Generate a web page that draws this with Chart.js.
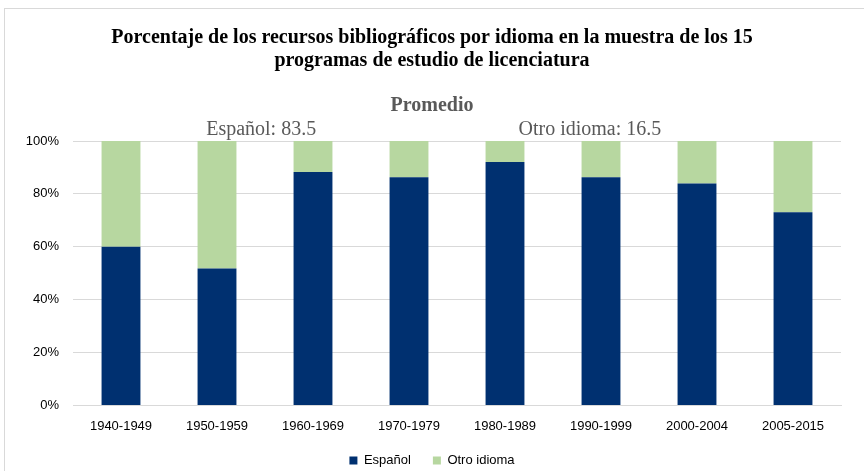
<!DOCTYPE html>
<html>
<head>
<meta charset="utf-8">
<script src="https://cdn.jsdelivr.net/npm/chart.js@4/dist/chart.umd.min.js"></script>
<style>
html,body{margin:0;padding:0;background:#fff;}
#wrap{position:relative;width:864px;height:471px;}
</style>
</head>
<body>
<div id="wrap"><canvas id="c" width="864" height="471"></canvas></div>
<script>
const categories = ['1940-1949','1950-1959','1960-1969','1970-1979','1980-1989','1990-1999','2000-2004','2005-2015'];
const espanol = [60.0, 51.8, 88.3, 86.3, 92.1, 86.3, 83.9, 73.1];
const otroIdioma = [40.0, 48.2, 11.7, 13.7, 7.9, 13.7, 16.1, 26.9];
const yTicks = [0, 20, 40, 60, 80, 100];
const titleLines = ['Porcentaje de los recursos bibliográficos por idioma en la muestra de los 15', 'programas de estudio de licenciatura'];
const subtitleText = 'Promedio';
const avgLabels = ['Español: 83.5', 'Otro idioma: 16.5'];

const sans = '"Liberation Sans", Arial, sans-serif';
const serif = '"Liberation Serif", "Times New Roman", serif';

const extras = {
  id: 'extras',
  beforeDraw(chart) {
    const ctx = chart.ctx;
    ctx.save();
    ctx.fillStyle = '#fff';
    ctx.fillRect(0, 0, chart.width, chart.height);
    ctx.strokeStyle = '#d9d9d9';
    ctx.lineWidth = 1;
    ctx.strokeRect(4.5, 8.5, 870, 480);
    ctx.restore();
  },
  afterDraw(chart) {
    const ctx = chart.ctx;
    const a = chart.chartArea;
    ctx.save();
    ctx.font = '20px ' + serif;
    ctx.fillStyle = '#595959';
    ctx.textAlign = 'center';
    ctx.textBaseline = 'middle';
    const y = a.top - 11;
    ctx.fillText(avgLabels[0], a.left + (a.right - a.left) * 0.245, y);
    ctx.fillText(avgLabels[1], a.left + (a.right - a.left) * 0.673, y);
    ctx.restore();
  }
};

new Chart(document.getElementById('c'), {
  type: 'bar',
  data: {
    labels: categories,
    datasets: [
      { label: 'Español', data: espanol, backgroundColor: '#003070', barPercentage: 0.81, categoryPercentage: 0.5 },
      { label: 'Otro idioma', data: otroIdioma, backgroundColor: '#b7d7a0', barPercentage: 0.81, categoryPercentage: 0.5 }
    ]
  },
  options: {
    responsive: false,
    animation: false,
    devicePixelRatio: 1,
    layout: { padding: { left: 23, right: 23, top: 0, bottom: -6 } },
    plugins: {
      title: {
        display: true,
        text: titleLines,
        color: '#000',
        font: { family: serif, size: 20, weight: 'bold', lineHeight: 1.15 },
        padding: { top: 26, bottom: 22 }
      },
      subtitle: {
        display: true,
        text: subtitleText,
        color: '#595959',
        font: { family: serif, size: 20, weight: 'bold', lineHeight: 1.2 },
        padding: { top: 0, bottom: 23 }
      },
      legend: {
        position: 'bottom',
        labels: {
          color: '#000',
          font: { family: sans, size: 13 },
          boxWidth: 8,
          boxHeight: 8,
          padding: 22
        }
      },
      tooltip: { enabled: false }
    },
    scales: {
      x: {
        stacked: true,
        afterFit(scale) { scale.height = 26.4; },
        grid: { display: false, drawTicks: false },
        border: { color: '#d9d9d9' },
        ticks: { color: '#000', font: { family: sans, size: 13 }, padding: 13, maxRotation: 0 }
      },
      y: {
        stacked: true,
        min: 0,
        max: 100,
        afterFit(scale) { scale.width = 50; },
        afterBuildTicks(scale) { scale.ticks = yTicks.map(v => ({ value: v })); },
        grid: { color: '#d9d9d9', drawTicks: false },
        border: { display: false },
        ticks: { color: '#000', font: { family: sans, size: 13 }, padding: 14, callback: v => v + '%' }
      }
    }
  },
  plugins: [extras]
});
</script>
</body>
</html>
